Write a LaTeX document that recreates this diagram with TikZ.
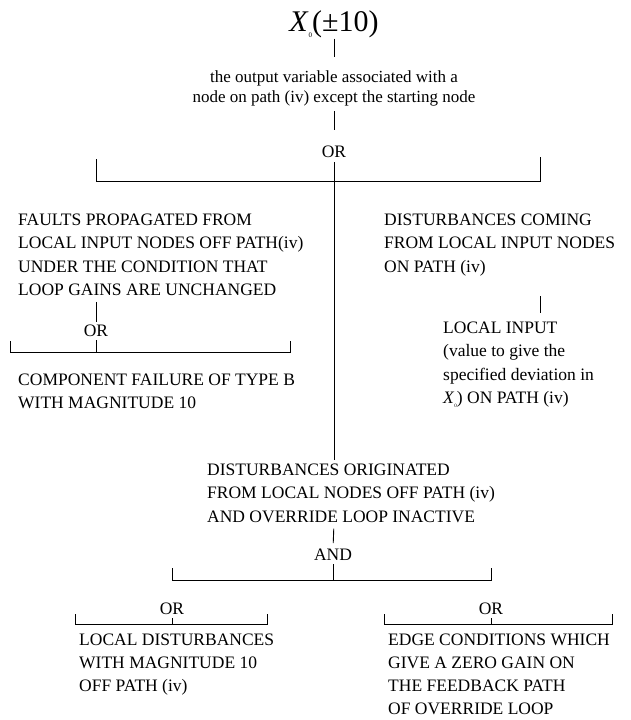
\documentclass[tikz,border=0pt]{standalone}
\usepackage{fontspec}
\setmainfont{Liberation Serif}
\begin{document}
\begin{tikzpicture}[x=1pt,y=-1pt,
  txt/.style={inner sep=0pt,font=\fontsize{17.5}{23.2}\selectfont},
  blk/.style={txt,align=left,anchor=north west},
  gate/.style={txt,anchor=center},
  wire/.style={line width=0.9pt}]
\useasboundingbox (0,0) rectangle (631,720);

% top event
\node[inner sep=0pt,anchor=base,font=\fontsize{30}{32}\selectfont] (ttl) at (334,31)
  {\textit{X}\raisebox{-0.45ex}{\fontsize{7}{7}\selectfont 0}(±10)};
\node[txt,align=center,anchor=north,font=\fontsize{17}{20}\selectfont] (out) at (334,71)
  {the output variable associated with a\\node on path (iv) except the starting node};
\node[gate] (or0) at (334,152) {OR};

% first level events
\node[blk] (fp) at (18,214)
  {FAULTS PROPAGATED FROM\\LOCAL INPUT NODES OFF PATH(iv)\\UNDER THE CONDITION THAT\\LOOP GAINS ARE UNCHANGED};
\node[blk] (dc) at (384,214)
  {DISTURBANCES COMING\\FROM LOCAL INPUT NODES\\ON PATH (iv)};
\node[blk] (ds) at (207,464)
  {DISTURBANCES ORIGINATED\\FROM LOCAL NODES OFF PATH (iv)\\AND OVERRIDE LOOP INACTIVE};

% under the faults branch
\node[gate] (or1) at (96,331) {OR};
\node[blk] (cf) at (18,374)
  {COMPONENT FAILURE OF TYPE B\\WITH MAGNITUDE 10};

% under the on-path branch
\node[blk] (li) at (443,322)
  {LOCAL INPUT\\(value to give the\\specified deviation in\\\textit{X}\raisebox{-0.45ex}{\fontsize{5}{5}\selectfont 0}) ON PATH (iv)};

% under the override branch
\node[gate] (and0) at (333,555) {AND};
\node[gate] (or2) at (172,609) {OR};
\node[gate] (or3) at (491,609) {OR};
\node[blk,font=\fontsize{17.5}{22.8}\selectfont] (ld) at (79,634)
  {LOCAL DISTURBANCES\\WITH MAGNITUDE 10\\OFF PATH (iv)};
\node[blk,font=\fontsize{17.5}{22.8}\selectfont] (ec) at (388,634)
  {EDGE CONDITIONS WHICH\\GIVE A ZERO GAIN ON\\THE FEEDBACK PATH\\OF OVERRIDE LOOP};

% bar corners
\coordinate (b0l) at (96,181);  \coordinate (b0r) at (540,181);
\coordinate (b1l) at (10,352);  \coordinate (b1r) at (290,352);
\coordinate (b2l) at (172,580); \coordinate (b2r) at (491,580);
\coordinate (b3l) at (75,624);  \coordinate (b3r) at (267,624);
\coordinate (b4l) at (384,624); \coordinate (b4r) at (612,624);

% connectors
\draw[wire,shorten <=1pt,shorten >=14pt] (ttl.south) -- (out.north);
\draw[wire,shorten <=4pt,shorten >=16pt] (out.south) -- (or0.north);
\draw[wire,shorten <=4pt,shorten >=4pt] (or0.south) -- (or0.south |- ds.north);
\draw[wire] ([yshift=22pt]b0l) -- (b0l) -- (b0r) -- ([yshift=24pt]b0r);
\draw[wire,shorten <=6pt,shorten >=3pt] (fp.south -| or1) -- (or1.north);
\draw[wire,shorten <=3pt] (or1.south) -- (b1l -| or1);
\draw[wire] ([yshift=11pt]b1l) -- (b1l) -- (b1r) -- ([yshift=11pt]b1r);
\draw[wire,shorten <=20pt,shorten >=9pt] (dc.south -| b0r) -- (li.north -| b0r);
\draw[wire,shorten <=6pt,shorten >=6pt] (ds.south -| or0) -- (and0.north);
\draw[wire,shorten <=3pt] (and0.south) -- (b2l -| and0);
\draw[wire] ([yshift=12pt]b2l) -- (b2l) -- (b2r) -- ([yshift=12pt]b2r);
\draw[wire,shorten <=3pt] (or2.south) -- (b3l -| or2);
\draw[wire,shorten <=3pt] (or3.south) -- (b4l -| or3);
\draw[wire] ([yshift=10pt]b3l) -- (b3l) -- (b3r) -- ([yshift=10pt]b3r);
\draw[wire] ([yshift=10pt]b4l) -- (b4l) -- (b4r) -- ([yshift=10pt]b4r);
\end{tikzpicture}
\end{document}
